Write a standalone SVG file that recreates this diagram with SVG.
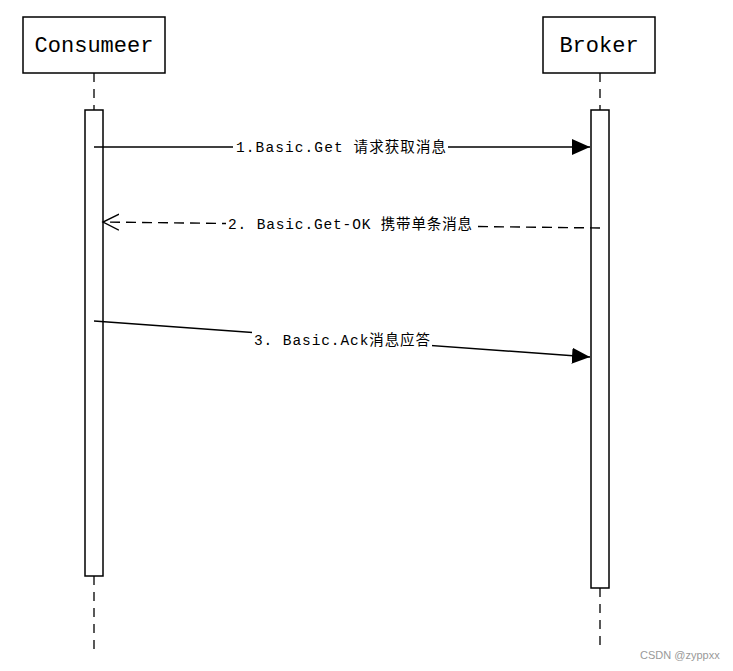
<svg xmlns="http://www.w3.org/2000/svg" width="733" height="671" viewBox="0 0 733 671">
<style>
.box{fill:#fff;stroke:#000;stroke-width:1.5}
.act{fill:#fff;stroke:#000;stroke-width:1.5}
.life{stroke:#000;stroke-width:1.3;stroke-dasharray:9,7;fill:none}
.title{font-family:"Liberation Mono","Noto Sans CJK SC",monospace;font-size:22px;fill:#000}
.lbl{font-family:"Liberation Mono","Noto Sans CJK SC",monospace;font-size:14.5px;fill:#000}
.msg{stroke:#000;stroke-width:1.4;fill:none}
.dash{stroke-dasharray:10,6}
.bg{fill:#fff}
</style>
<defs>
<marker id="filled" markerUnits="userSpaceOnUse" markerWidth="20" markerHeight="18" refX="18" refY="8" orient="auto">
<path d="M0,0 L18,8 L0,16 Z" fill="#000"/>
</marker>
<marker id="open" markerUnits="userSpaceOnUse" markerWidth="20" markerHeight="20" refX="16" refY="9" orient="auto">
<path d="M0,1 L16,9 L0,17" fill="none" stroke="#000" stroke-width="1.4"/>
</marker>
</defs>
<g id="consumeer">
<line class="life" x1="94" y1="73" x2="94" y2="110"/>
<line class="life" x1="94" y1="576" x2="94" y2="650"/>
<rect class="box" x="23" y="17" width="142" height="56"/>
<text class="title" x="94" y="52" text-anchor="middle">Consumeer</text>
<rect class="act" x="85" y="110" width="18" height="466"/>
</g>
<g id="broker">
<line class="life" x1="600" y1="73" x2="600" y2="110"/>
<line class="life" x1="600" y1="588" x2="600" y2="650"/>
<rect class="box" x="543" y="17" width="112" height="56"/>
<text class="title" x="599" y="52" text-anchor="middle">Broker</text>
<rect class="act" x="591" y="110" width="18" height="478"/>
</g>
<g id="connectors">
<g id="msg1">
<line class="msg" x1="94" y1="147" x2="590" y2="147" marker-end="url(#filled)"/>
<rect class="bg" x="233" y="137" width="215" height="19"/>
<text class="lbl" x="236" y="152" textLength="210" lengthAdjust="spacing">1.Basic.Get 请求获取消息</text>
</g>
<g id="msg2">
<line class="msg dash" x1="600" y1="228" x2="103" y2="222" marker-end="url(#open)"/>
<rect class="bg" x="226" y="214" width="248" height="19"/>
<text class="lbl" x="228" y="229" textLength="244" lengthAdjust="spacing">2. Basic.Get-OK 携带单条消息</text>
</g>
<g id="msg3">
<line class="msg" x1="94" y1="321" x2="590" y2="357" marker-end="url(#filled)"/>
<rect class="bg" x="252" y="330" width="180" height="19"/>
<text class="lbl" x="254" y="345" textLength="176" lengthAdjust="spacing">3. Basic.Ack消息应答</text>
</g>
</g>
<text x="640" y="659" font-family="Liberation Sans,sans-serif" font-size="11" fill="#999">CSDN @zyppxx</text>
</svg>
